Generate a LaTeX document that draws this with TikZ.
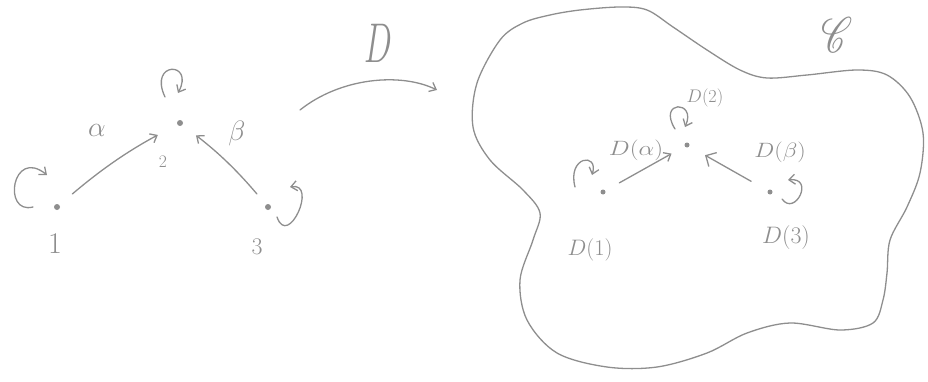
\documentclass[tikz,border=0pt]{standalone}
\usepackage{mathrsfs}
\usetikzlibrary{arrows.meta, calc}
\definecolor{pencil}{HTML}{8E8E8E}

\begin{document}
\begin{tikzpicture}[x=1pt, y=1pt, >={Straight Barb[length=6pt, width=10pt]},
  dot/.style={circle, fill=pencil, inner sep=0pt, minimum size=6pt},
  lbl/.style={text=pencil, inner sep=0pt, font=\fontsize{20.74}{22}\selectfont},
  pen/.style={draw=pencil, line width=1.3pt, line cap=round, line join=round}]
  \useasboundingbox (0,0) rectangle (928,381);

  % Source diagram
  \node[dot] (n1) at (57,174) {};
  \node[dot] (n2) at (180,258) {};
  \node[dot] (n3) at (268,174) {};
  \node[lbl, scale=1.45] (l1) at (55,137) {$1$};
  \node[lbl, scale=0.85] (l2) at (163,219) {$2$};
  \node[lbl, scale=1.15] (l3) at (257,134) {$3$};
  \node[lbl, scale=1.35] (la) at (97,251) {$\alpha$};
  \node[lbl, scale=1.35] (lb) at (237,248) {$\beta$};

  \draw[pen, ->, shorten <=17pt, shorten >=22pt] (n1) to[bend left=6] (n2);
  \draw[pen, ->, shorten <=14pt, shorten >=17pt] (n3) to[bend right=6] (n2);
  % identity loops
  \draw[pen, ->] ($(n1)+(-24,0)$) .. controls ($(n1)+(-55,-8)$) and ($(n1)+(-45,60)$) .. ($(n1)+(-10,32)$);
  \draw[pen, ->] ($(n2)+(-15,26)$) .. controls ($(n2)+(-32,62)$) and ($(n2)+(15,62)$) .. ($(n2)+(-2,30)$);
  \draw[pen, ->] ($(n3)+(9,-10)$) .. controls ($(n3)+(20,-42)$) and ($(n3)+(50,25)$) .. ($(n3)+(22,20)$);

  % The functor
  \coordinate (Dstart) at (300,271);
  \coordinate (Dend) at (437,291);
  \draw[pen, ->] (Dstart) .. controls (340,303) and (400,309) .. (Dend);
  \node[lbl, xscale=1.6, yscale=2.7] (lD) at (378,338) {$D$};

  % Target category
  \draw[pen] plot[smooth cycle, tension=0.55] coordinates {
    (500,341) (523,358) (550,366) (580,371) (620,374) (647,371) (673,354)
    (707,331) (740,311) (767,303) (807,306) (857,311) (887,306) (910,284)
    (923,248) (920,208) (907,174) (890,141) (887,108) (883,81) (873,58)
    (840,51) (790,58) (747,48) (707,28) (657,14) (607,14) (557,28)
    (527,61) (520,101) (533,141) (540,168) (523,191) (490,221) (473,254)
    (477,298)};
  \node[lbl, xscale=1.8, yscale=2.4] (lC) at (837,346) {$\mathscr{C}$};

  \node[dot, minimum size=5pt] (m1) at (603,189) {};
  \node[dot, minimum size=5pt] (m2) at (687,236) {};
  \node[dot, minimum size=5pt] (m3) at (770,189) {};
  \node[lbl, scale=1.08] (lm1) at (590,131) {$D(1)$};
  \node[lbl, scale=0.88] (lm2) at (705,283) {$D(2)$};
  \node[lbl, scale=1.15] (lm3) at (786,143) {$D(3)$};
  \node[lbl, xscale=1.2] (lma) at (636,231) {$D(\alpha)$};
  \node[lbl, xscale=1.15] (lmb) at (780,229) {$D(\beta)$};

  \draw[pen, ->, shorten <=16pt, shorten >=15pt] (m1) -- (m2);
  \draw[pen, -{Straight Barb[length=8pt, width=16pt]}, shorten <=19pt, shorten >=18pt] (m3) -- (m2);
  % identity loops
  \draw[pen, ->] ($(m1)+(-28,5)$) .. controls ($(m1)+(-36,36)$) and ($(m1)+(-4,40)$) .. ($(m1)+(-11,17)$);
  \draw[pen, ->] ($(m2)+(-12,16)$) .. controls ($(m2)+(-30,45)$) and ($(m2)+(10,45)$) .. ($(m2)+(-2,18)$);
  \draw[pen, ->] ($(m3)+(12,-7)$) .. controls ($(m3)+(25,-25)$) and ($(m3)+(45,15)$) .. ($(m3)+(18,12)$);
\end{tikzpicture}
\end{document}
